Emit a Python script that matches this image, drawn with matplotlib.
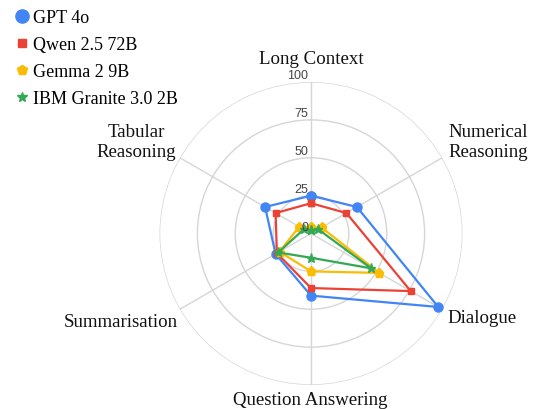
import matplotlib.pyplot as plt
import numpy as np
from matplotlib.lines import Line2D

# categories clockwise from the top
categories = ["Long Context", "Numerical\nReasoning", "Dialogue",
              "Question Answering", "Summarisation", "Tabular\nReasoning"]
models = ["GPT 4o", "Qwen 2.5 72B", "Gemma 2 9B", "IBM Granite 3.0 2B"]
gpt4o = [25, 35, 97, 41, 27, 35]
qwen = [20, 27, 76, 36, 26, 27]
gemma = [4, 8, 52, 25, 24, 9]
granite = [2, 5.5, 46, 16, 25, 5.5]
r_ticks = [0, 25, 50, 75, 100]

colors = ["#4285F4", "#EA4335", "#FBBC04", "#34A853"]
markers = ["o", "s", "p", "*"]
msizes = [6.5, 5, 6.5, 6.5]

serif = ["Liberation Serif", "DejaVu Serif"]

fig = plt.figure(figsize=(5.33, 4.10), dpi=100)
ax = fig.add_axes([0.2993, 0.0585, 0.5684, 0.739], projection="polar")
ax.set_theta_offset(np.pi / 2)
ax.set_theta_direction(-1)

angles = np.linspace(0, 2 * np.pi, len(categories), endpoint=False)

for vals, c, m, ms in zip([gpt4o, qwen, gemma, granite], colors, markers, msizes):
    v = list(vals) + [vals[0]]
    a = list(angles) + [angles[0]]
    ax.plot(a, v, color=c, lw=1.6, marker=m, markersize=ms,
            markeredgecolor=c, markerfacecolor=c, clip_on=False, zorder=3)

ax.set_ylim(0, 100)
ax.set_yticks(r_ticks[1:])
ax.set_yticklabels([])
ax.set_xticks(angles)
ax.set_xticklabels([])
ax.spines["polar"].set_visible(False)
ax.grid(True, color="#d6d6d6", lw=1)

# radial tick labels, just left of the vertical spoke
for t in r_ticks:
    ax.annotate(str(t), xy=(0, t), xytext=(-3, 4), textcoords="offset pixels",
                ha="right", va="baseline", fontsize=9, color="#444444",
                family=["Liberation Sans", "DejaVu Sans"])

# category labels
lab_pos = [((0, 19), "center", "baseline"),
           ((6, -2), "left", "bottom"),
           ((5, -13), "left", "baseline"),
           ((-1, -19), "center", "baseline"),
           ((-2, -16.5), "right", "baseline"),
           ((-4, -2), "right", "bottom")]
for ang, name, (off, ha, va) in zip(angles, categories, lab_pos):
    ax.annotate(name, xy=(ang, 100), xytext=off, textcoords="offset pixels",
                ha=ha, va=va, multialignment="center", fontsize=13.6,
                color="#111111", family=serif, linespacing=1.2,
                annotation_clip=False)

handles = [Line2D([], [], ls="none", marker=m, color=c, markersize=s)
           for c, m, s in zip(colors, markers, [9.5, 5.5, 7.5, 7])]
fig.legend(handles, models, loc="upper left", bbox_to_anchor=(0.032, 0.975),
           frameon=False, prop={"family": serif, "size": 13},
           handlelength=0.6, handletextpad=0.3, labelspacing=0.55,
           borderpad=0, borderaxespad=0)

fig.savefig("out.png", dpi=100)
